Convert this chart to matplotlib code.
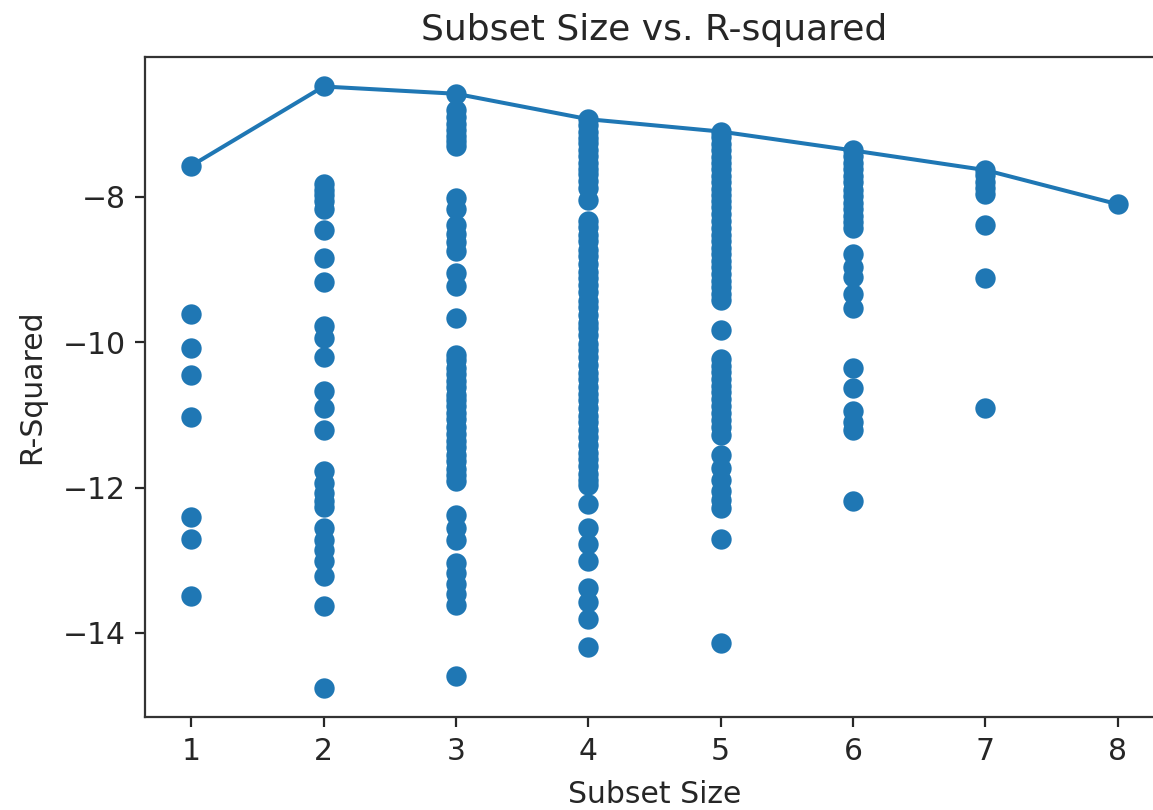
import matplotlib
matplotlib.use("Agg")
import matplotlib.pyplot as plt

plt.rcParams['font.family'] = ['DejaVu Sans']

# R-squared values for each subset size
size1 = [-7.57, -9.61, -10.08, -10.45, -11.03, -12.40, -12.70, -13.49]
size2 = [-6.48, -7.82, -7.90, -7.97, -8.05, -8.16, -8.46, -8.84, -9.17,
         -9.77, -9.94, -10.20, -10.67, -10.90, -11.21, -11.77, -11.94,
         -12.08, -12.18, -12.26, -12.55, -12.72, -12.86, -13.01, -13.22,
         -13.63, -14.75]
size3 = [-6.58, -6.81, -6.90, -6.99, -7.08, -7.16, -7.23, -7.30,
         -8.02, -8.16, -8.39, -8.51, -8.62, -8.74, -9.05, -9.23, -9.66,
         -10.17, -10.24, -10.36, -10.44, -10.53, -10.61, -10.72, -10.79,
         -10.88, -10.97, -11.06, -11.17, -11.26, -11.36, -11.44, -11.55,
         -11.63, -11.74, -11.83, -11.91,
         -12.37, -12.55, -12.72, -13.03, -13.18, -13.32, -13.47, -13.61,
         -14.59]
size4 = [-6.93, -7.01, -7.10, -7.19, -7.26, -7.35, -7.43, -7.53, -7.61,
         -7.69, -7.78, -7.87, -8.04,
         -8.33, -8.41, -8.52, -8.61, -8.73, -8.81, -8.92, -9.03, -9.11,
         -9.21, -9.31, -9.43, -9.51, -9.62, -9.73, -9.81, -9.90, -10.02,
         -10.11, -10.20, -10.31, -10.42, -10.50, -10.61, -10.71, -10.80,
         -10.91, -11.02, -11.10, -11.21, -11.30, -11.41, -11.52, -11.61,
         -11.70, -11.81, -11.90, -11.97,
         -12.23, -12.55, -12.78, -13.01, -13.38, -13.58, -13.81, -14.19]
size5 = [-7.10, -7.18, -7.27, -7.36, -7.45, -7.53, -7.62, -7.71, -7.80,
         -7.89, -7.97, -8.06, -8.14, -8.23, -8.33, -8.43, -8.52, -8.61,
         -8.70, -8.79, -8.88, -8.97, -9.06, -9.15, -9.24, -9.33, -9.42,
         -9.83,
         -10.23, -10.32, -10.41, -10.50, -10.60, -10.69, -10.78, -10.88,
         -10.97, -11.07, -11.17, -11.27,
         -11.55, -11.73, -11.90, -12.05, -12.17, -12.28, -12.71, -14.14]
size6 = [-7.36, -7.44, -7.53, -7.62, -7.71, -7.80, -7.90, -7.99, -8.08,
         -8.17, -8.26, -8.35, -8.43,
         -8.78, -8.96, -9.10, -9.33, -9.53,
         -10.36, -10.63, -10.95, -11.09, -11.21, -12.19]
size7 = [-7.63, -7.70, -7.80, -7.88, -7.96, -8.38, -9.12, -10.90]
size8 = [-8.10]

groups = [size1, size2, size3, size4, size5, size6, size7, size8]
subset_sizes = [1, 2, 3, 4, 5, 6, 7, 8]

title = "Subset Size vs. R-squared"
xlabel = "Subset Size"
ylabel = "R-Squared"

W, H = 1153, 810
fig = plt.figure(figsize=(W / 100, H / 100), dpi=100)
ax = fig.add_axes([145 / W, 1 - 717.3 / H, (1164 - 145) / W, (717.3 - 56.7) / H])

color = "#1f77b4"
xs, ys = [], []
for k, vals in zip(subset_sizes, groups):
    xs.extend([k] * len(vals))
    ys.extend(vals)
ax.scatter(xs, ys, s=215, color=color, zorder=2, linewidths=0)

best = [max(v) for v in groups]
ax.plot(subset_sizes, best, color=color, linewidth=2.9, zorder=3)

ax.set_xlim(0.65, 8.35)
ax.set_ylim(-15.16, -6.07)
ax.set_xticks(subset_sizes)
ax.set_yticks([-14, -12, -10, -8])

ax.tick_params(labelsize=21.5, length=7, width=1.6, pad=7, colors="#262626")
for sp in ax.spines.values():
    sp.set_linewidth(1.6)
    sp.set_color("#333333")

ax.set_title(title, fontsize=26, pad=12, color="#262626")
ax.set_xlabel(xlabel, fontsize=21.5, labelpad=10, color="#262626")
ax.set_ylabel(ylabel, fontsize=21.5, labelpad=12, color="#262626")

fig.savefig("out.png", dpi=100)
